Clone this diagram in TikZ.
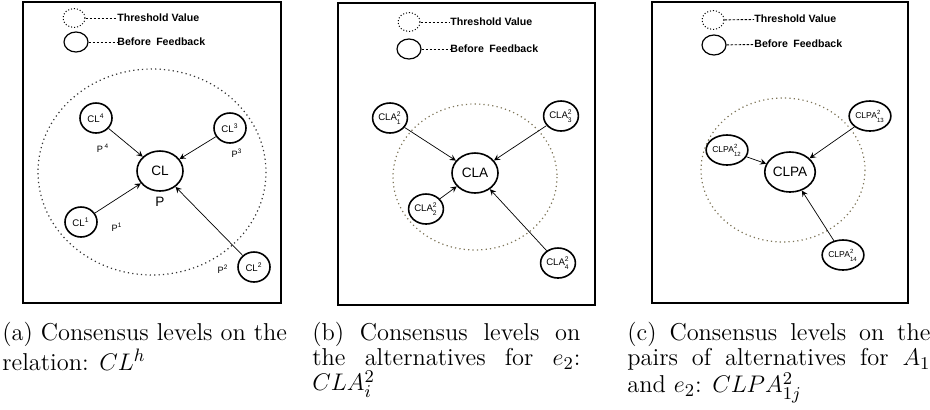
\documentclass[tikz,border=0pt]{standalone}
\usepackage{amsmath}
\usepackage{fontspec}
\setsansfont{Liberation Sans}
\usetikzlibrary{shapes.geometric,positioning}

\definecolor{dotgray}{RGB}{125,116,88}

\tikzset{
  frame/.style={draw, line width=1pt},
  level/.style={ellipse, draw, line width=0.8pt, inner sep=0.3pt,
    minimum width=16pt, minimum height=15pt,
    font=\sffamily\fontsize{4.8}{5.5}\selectfont},
  centre/.style={level, minimum width=23pt, minimum height=20pt,
    font=\sffamily\fontsize{6.8}{8}\selectfont},
  pairlevel/.style={level, minimum width=17pt, inner sep=0pt,
    font=\sffamily\fontsize{4.3}{5}\selectfont},
  plabel/.style={inner sep=0pt, font=\sffamily\fontsize{4.6}{5.5}\selectfont},
  thr/.style={ellipse, draw, line width=0.5pt, dash pattern=on 0.5pt off 1pt,
    minimum width=11pt, minimum height=9pt},
  bef/.style={ellipse, draw, line width=0.6pt, minimum width=12pt, minimum height=10pt},
  legtext/.style={anchor=west, inner sep=0pt, font=\sffamily\bfseries\fontsize{5.3}{6}\selectfont},
  legline/.style={line width=0.45pt, dash pattern=on 1.3pt off 0.7pt},
  feed/.style={->, >=stealth, line width=0.35pt},
  tvalue/.style={line width=0.6pt, dash pattern=on 0.6pt off 1.6pt},
  caption/.style={anchor=north west, inner sep=0pt, align=justify,
    font=\fontsize{12.2}{12.5}\selectfont}
}

\begin{document}
\begin{tikzpicture}[x=0.5pt, y=-0.5pt]
  \useasboundingbox (0,0) rectangle (930,409);

  % (a) consensus levels on the relation
  \draw[frame] (23,1.5) rectangle (281,303);
  \node[thr] (thra) at (74,18) {};
  \node[legtext] (thrta) at (117,18) {Threshold Value};
  \draw[legline] (thra) -- (thrta);
  \node[bef] (befa) at (76,42) {};
  \node[legtext] (befta) at (117,42) {Before\enspace Feedback};
  \draw[legline] (befa) -- (befta);
  \draw[tvalue, black!80] (152,172) ellipse [x radius=114, y radius=103];
  \node[centre] (cl) at (160,171) {CL};
  \node[plabel, font=\sffamily\fontsize{6.8}{8}\selectfont, on grid, below=15.5pt of cl] (p) {P};
  \node[level] (cl4) at (96,118) {CL$^{\text{4}}$};
  \node[level] (cl3) at (230,128) {CL$^{\text{3}}$};
  \node[level] (cl1) at (81,222) {CL$^{\text{1}}$};
  \node[level] (cl2) at (254,267) {CL$^{\text{2}}$};
  \node[plabel, on grid, below right=15pt and 3.5pt of cl4] (p4) {P\,$^{\text{4}}$};
  \node[plabel, on grid, below right=12.5pt and 3.5pt of cl3] (p3) {P$^{\text{3}}$};
  \node[plabel, on grid, below right=2.5pt and 18pt of cl1] (p1) {P$^{\text{1}}$};
  \node[plabel, on grid, below left=1pt and 15.5pt of cl2] (p2) {P$^{\text{2}}$};
  \draw[feed] (cl4) -- (cl);
  \draw[feed] (cl3) -- (cl);
  \draw[feed] (cl1) -- (cl);
  \draw[feed] (cl2) -- (cl);

  % (b) consensus levels on the alternatives
  \draw[frame] (338,3) rectangle (595,305);
  \node[thr] (thrb) at (409,22) {};
  \node[legtext] (thrtb) at (450,22) {Threshold Value};
  \draw[legline] (thrb) -- (thrtb);
  \node[bef] (befb) at (409,49) {};
  \node[legtext] (beftb) at (450,49) {Before\enspace Feedback};
  \draw[legline] (befb) -- (beftb);
  \draw[tvalue, dotgray] (475,177) ellipse [x radius=82, y radius=73];
  \node[centre] (cla) at (475,173) {CLA};
  \node[level] (cla1) at (390,118) {CLA$^{\text{2}}_{\text{1}}$};
  \node[level] (cla3) at (561,116) {CLA$^{\text{2}}_{\text{3}}$};
  \node[level] (cla2) at (426,209) {CLA$^{\text{2}}_{\text{2}}$};
  \node[level] (cla4) at (558,263) {CLA$^{\text{2}}_{\text{4}}$};
  \draw[feed] (cla1) -- (cla);
  \draw[feed] (cla3) -- (cla);
  \draw[feed] (cla2) -- (cla);
  \draw[feed] (cla4) -- (cla);

  % (c) consensus levels on the pairs of alternatives
  \draw[frame] (652,1.5) rectangle (908,303);
  \node[thr] (thrc) at (713,20) {};
  \node[legtext] (thrtc) at (754,19) {Threshold Value};
  \draw[legline] (thrc) -- (thrtc);
  \node[bef] (befc) at (714,45) {};
  \node[legtext] (beftc) at (754,44) {Before\enspace Feedback};
  \draw[legline] (befc) -- (beftc);
  \draw[tvalue, dotgray] (783,170) ellipse [x radius=82, y radius=72];
  \node[centre, minimum width=25pt] (clpa) at (790,172) {CLPA};
  \node[pairlevel] (clpa12) at (727,150) {CLPA$^{\text{2}}_{\text{12}}$};
  \node[pairlevel] (clpa13) at (870,116) {CLPA$^{\text{2}}_{\text{13}}$};
  \node[pairlevel] (clpa14) at (843,255) {CLPA$^{\text{2}}_{\text{14}}$};
  \draw[feed] (clpa12) -- (clpa);
  \draw[feed] (clpa13) -- (clpa);
  \draw[feed] (clpa14) -- (clpa);

  % captions
  \node[caption, text width=150pt] (capa) at (2,322)
    {(a) Consensus levels on the\\ relation: $CL^h$};
  \node[caption, text width=134pt] (capb) at (312,322)
    {(b) Consensus levels on\linebreak the alternatives for $e_2$:\linebreak $CLA^2_i$};
  \node[caption, text width=151.5pt] (capc) at (627,322)
    {(c) Consensus levels on the\linebreak pairs of alternatives for $A_1$\linebreak and $e_2$: $CLPA^2_{1j}$};
\end{tikzpicture}
\end{document}
